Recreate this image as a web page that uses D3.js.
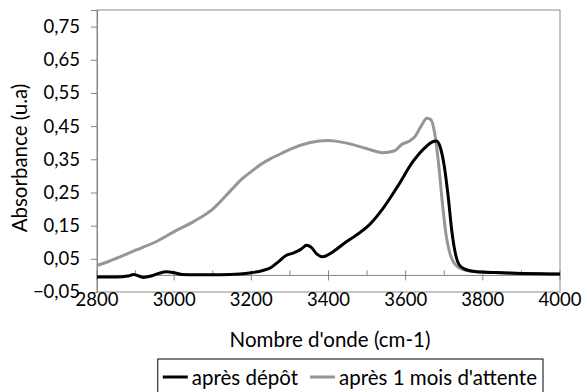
<!DOCTYPE html>
<html>
<head>
<meta charset="utf-8">
<script src="https://cdn.jsdelivr.net/npm/d3@7"></script>
<style>
    body { margin: 0; background: #fff; }
    text { font-family: Lato, "Open Sans", sans-serif; fill: #000; }
</style>
</head>
<body>
<svg id="chart" width="587" height="392"></svg>
<script>

// Wavenumber (cm-1) and absorbance
var apresDepotX = [2800, 2850, 2880, 2895, 2920, 2940, 2960, 2980, 3000, 3020, 3060, 3120, 3170, 3200,
    3230, 3250, 3270, 3290, 3310, 3330, 3343, 3355, 3370, 3385, 3410, 3440, 3470, 3500, 3540,
    3580, 3620, 3650, 3670, 3680, 3690, 3700, 3710, 3720, 3730, 3740, 3755, 3770, 3800, 3850, 3900, 3950, 4000];
var apresDepotY = [-0.005, -0.005, -0.002, 0.003, -0.006, -0.002, 0.006, 0.011, 0.008, 0.003, 0.002, 0.002, 0.004, 0.008,
    0.015, 0.023, 0.041, 0.06, 0.068, 0.08, 0.091, 0.085, 0.064, 0.056, 0.07, 0.096, 0.12, 0.146, 0.2,
    0.27, 0.345, 0.385, 0.403, 0.405, 0.385, 0.33, 0.24, 0.13, 0.06, 0.03, 0.018, 0.013, 0.01, 0.008, 0.006, 0.005, 0.004];

var apresMoisX = [2800, 2830, 2860, 2900, 2950, 3000, 3050, 3100, 3150, 3175, 3200, 3225, 3250, 3275, 3300, 3350, 3400,
    3450, 3500, 3540, 3570, 3590, 3610, 3625, 3640, 3655, 3665, 3675, 3685, 3695, 3705, 3715,
    3725, 3740, 3760, 3800, 3850, 3900, 3950, 4000];
var apresMoisY = [0.03, 0.042, 0.056, 0.076, 0.1, 0.132, 0.162, 0.2, 0.26, 0.29, 0.313, 0.335, 0.352, 0.366, 0.38, 0.4, 0.407,
    0.398, 0.382, 0.37, 0.375, 0.395, 0.405, 0.42, 0.45, 0.474, 0.47, 0.43, 0.34, 0.22, 0.12, 0.065,
    0.038, 0.022, 0.014, 0.01, 0.008, 0.006, 0.005, 0.004];

var yTicks = [-0.05, 0.05, 0.15, 0.25, 0.35, 0.45, 0.55, 0.65, 0.75];
var xTicks = [2800, 3000, 3200, 3400, 3600, 3800, 4000];
var xMinorTicks = [2900, 3100, 3300, 3500, 3700, 3900];

var seriesNames = ["après dépôt", "après 1 mois d'attente"];
var seriesColors = ["#000000", "#969696"];

var svg = d3.select("#chart");
var plot = { left: 97, right: 560, top: 10, bottom: 292 };
var tickFont = "18.5px";
var titleFont = "20.5px";

var x = d3.scaleLinear().domain([2800, 4000]).range([plot.left, plot.right]);
var y = d3.scaleLinear().domain([-0.05, 0.8]).range([plot.bottom, plot.top]);

var fmt = function (d) { return d3.format(".2f")(d).replace(".", ","); };

// Plot area border
svg.append("rect")
    .attr("x", plot.left).attr("y", plot.top)
    .attr("width", plot.right - plot.left).attr("height", plot.bottom - plot.top)
    .attr("fill", "none").attr("stroke", "#8c8c8c").attr("stroke-width", 1);

// Y axis
var yAxis = svg.append("g")
    .attr("transform", "translate(" + plot.left + ",0)")
    .call(d3.axisLeft(y).tickValues(yTicks).tickFormat(fmt).tickSize(6).tickPadding(11));
yAxis.select(".domain").attr("stroke", "#868686");
yAxis.selectAll(".tick line").attr("stroke", "#868686");
yAxis.selectAll("text").style("font-size", tickFont).attr("font-family", null);

// X axis crosses at y = 0, labels stay at the bottom
var xLine = svg.append("g").attr("transform", "translate(0," + y(0) + ")");
xLine.append("line")
    .attr("x1", plot.left).attr("x2", plot.right)
    .attr("stroke", "#868686");
xLine.selectAll(".major").data(xTicks).enter().append("line")
    .attr("x1", x).attr("x2", x).attr("y1", -5).attr("y2", 5)
    .attr("stroke", "#868686");
xLine.selectAll(".minor").data(xMinorTicks).enter().append("line")
    .attr("x1", x).attr("x2", x).attr("y1", -5).attr("y2", 0)
    .attr("stroke", "#868686");

svg.append("g").selectAll("text").data(xTicks).enter().append("text")
    .attr("x", x).attr("y", plot.bottom + 14)
    .attr("text-anchor", "middle")
    .style("font-size", tickFont)
    .text(function (d) { return d; });

// Axis titles
svg.append("text")
    .attr("transform", "translate(27,158) rotate(-90)")
    .attr("text-anchor", "middle")
    .style("font-size", titleFont)
    .text("Absorbance (u.a)");

svg.append("text")
    .attr("x", 330).attr("y", 347)
    .attr("text-anchor", "middle")
    .style("font-size", titleFont)
    .text("Nombre d'onde (cm-1)");

// Spectra
var line = d3.line()
    .x(function (d) { return x(d[0]); })
    .y(function (d) { return y(d[1]); })
    .curve(d3.curveMonotoneX);

var series = [
    d3.zip(apresMoisX, apresMoisY),
    d3.zip(apresDepotX, apresDepotY)
];
var order = [1, 0];

svg.append("g").selectAll("path").data(series).enter().append("path")
    .attr("d", line)
    .attr("fill", "none")
    .attr("stroke", function (d, i) { return seriesColors[order[i]]; })
    .attr("stroke-width", 3)
    .attr("stroke-linejoin", "round");

// Legend, laid out from the measured text widths, right edge at 543
var legend = svg.append("g");
var box = legend.append("rect")
    .attr("y", 359).attr("height", 40)
    .attr("fill", "#fff").attr("stroke", "#000").attr("stroke-width", 1);

var cursor = 0;
var parts = [];
seriesNames.forEach(function (name, i) {
    var sample = legend.append("line")
        .attr("y1", 377).attr("y2", 377)
        .attr("stroke", seriesColors[i]).attr("stroke-width", 3);
    var label = legend.append("text")
        .attr("y", 385)
        .style("font-size", titleFont)
        .text(name);
    cursor += (i === 0 ? 5 : 12);
    parts.push({ sample: sample, label: label, sx: cursor });
    cursor += 25 + 4;
    parts[i].tx = cursor;
    cursor += label.node().getComputedTextLength();
});
cursor += 6;
var left = 543 - cursor;
box.attr("x", left).attr("width", cursor);
parts.forEach(function (p) {
    p.sample.attr("x1", left + p.sx).attr("x2", left + p.sx + 25);
    p.label.attr("x", left + p.tx);
});

</script>
</body>
</html>
